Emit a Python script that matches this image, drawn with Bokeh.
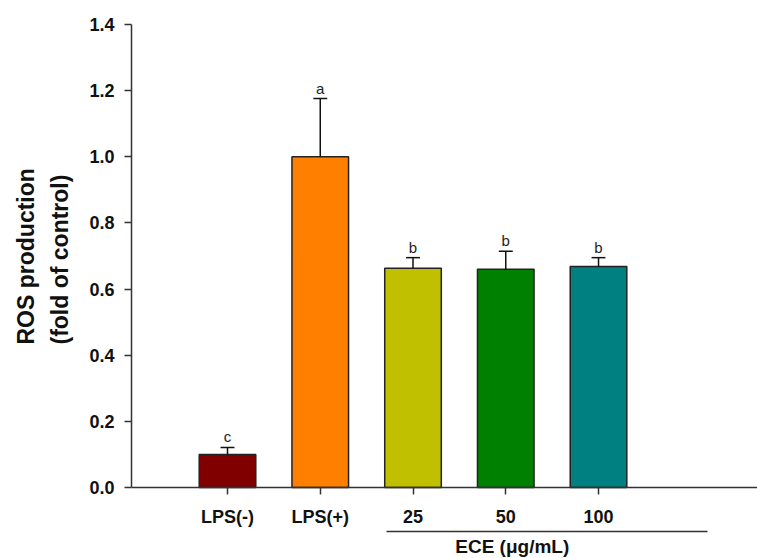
from bokeh.plotting import figure
from bokeh.models import Range1d, FixedTicker, ColumnDataSource, Title
from bokeh.core.properties import value
from bokeh.embed import file_html
from bokeh.resources import INLINE

categories = ["LPS(-)", "LPS(+)", "25", "50", "100"]
means = [0.10, 1.00, 0.663, 0.660, 0.668]
errors = [0.021, 0.176, 0.032, 0.054, 0.027]
letters = ["c", "a", "b", "b", "b"]
colors = ["#800000", "#FF8000", "#C0C000", "#008000", "#008080"]
y_ticks = [0.0, 0.2, 0.4, 0.6, 0.8, 1.0, 1.2, 1.4]
y_label = "ROS production\n(fold of control)"
group_label = "ECE (μg/mL)"
group_span = [1.714, 5.175]   # categories covered by the ECE bracket (in category units)

xs = list(range(len(categories)))
tops = [m + e for m, e in zip(means, errors)]
src = ColumnDataSource(dict(x=xs, top=means, color=colors, up=tops,
                            cl=[x - 0.075 for x in xs], cr=[x + 0.075 for x in xs],
                            letter=letters))

FONT = "Liberation Sans"
p = figure(width=757, height=558, output_backend="svg", toolbar_location=None,
           x_range=Range1d(-1.035, 5.714), y_range=Range1d(-0.2147, 1.4),
           min_border_left=131, min_border_right=0, min_border_top=24, min_border_bottom=0)
p.outline_line_color = None
p.grid.visible = False
p.background_fill_color = "white"
p.border_fill_color = "white"

p.vbar(x="x", top="top", bottom=0, width=0.61, fill_color="color", line_color="#222222",
       line_width=1.5, source=src)
p.segment(x0="x", y0="top", x1="x", y1="up", line_color="#111111", line_width=1.5, source=src)
p.segment(x0="cl", y0="up", x1="cr", y1="up", line_color="#111111", line_width=1.5, source=src)
p.text(x="x", y="up", text="letter", source=src, text_align="center", text_baseline="bottom",
       y_offset=-2, text_font=value(FONT), text_font_size="15px", text_color="#222222")

# y axis
ya = p.yaxis[0]
ya.bounds = (0, 1.4)
ya.ticker = FixedTicker(ticks=y_ticks)
ya.major_label_overrides = {t: f"{t:.1f}" for t in y_ticks}
ya.minor_tick_line_color = None
ya.major_tick_out = 7
ya.major_tick_in = 0
ya.axis_line_width = 1.5
ya.major_tick_line_width = 1.5
ya.axis_line_color = "#333333"
ya.major_tick_line_color = "#333333"
ya.major_label_text_font = FONT
ya.major_label_text_font_style = "bold"
ya.major_label_text_font_size = "18px"
ya.major_label_text_color = "#111111"
ya.major_label_standoff = 10

# y label as a side title, placed along the 0-1.4 part of the axis
p.add_layout(Title(text=y_label, align="left", offset=214, standoff=23,
                   vertical_align="top", text_line_height=1.3,
                   text_font=FONT, text_font_style="bold", text_font_size="23px",
                   text_color="#111111"), "left")

# x axis, drawn at y = 0 inside the frame so the group bracket can sit below it
xa = p.xaxis[0]
xa.fixed_location = 0
xa.ticker = FixedTicker(ticks=xs)
xa.major_label_overrides = {i: c for i, c in zip(xs, categories)}
xa.minor_tick_line_color = None
xa.major_tick_out = 7
xa.major_tick_in = 0
xa.axis_line_width = 1.5
xa.major_tick_line_width = 1.5
xa.axis_line_color = "#333333"
xa.major_tick_line_color = "#333333"
xa.major_label_text_font = FONT
xa.major_label_text_font_style = "bold"
xa.major_label_text_font_size = "18px"
xa.major_label_text_color = "#111111"
xa.major_label_standoff = 13

# group bracket and label
p.segment(x0=[group_span[0]], x1=[group_span[1]], y0=[-0.133], y1=[-0.133],
          line_color="#333333", line_width=1.5)
p.text(x=[3.07], y=[-0.2087], text=[group_label], text_align="center",
       text_baseline="bottom", text_font=value(FONT), text_font_style="bold",
       text_font_size="19px", text_color="#111111")

open("out.html", "w").write(file_html(p, INLINE))
